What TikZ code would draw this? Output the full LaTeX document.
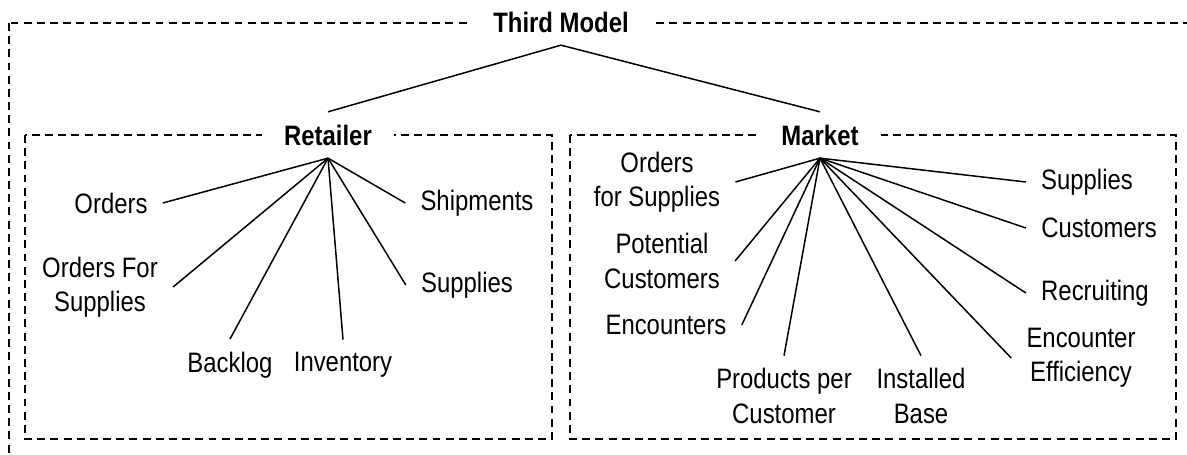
\documentclass[tikz,border=0pt]{standalone}
\usepackage{fontspec}
\setmainfont[FakeStretch=0.85]{Liberation Sans}
\usetikzlibrary{positioning}

\begin{document}
\begin{tikzpicture}[x=0.02cm,y=-0.02cm,
  every node/.style={font=\fontsize{16}{19.5}\selectfont},
  box/.style={line width=1.1pt,dash pattern=on 4.5pt off 3pt},
  title/.style={font=\fontsize{16}{19.5}\selectfont\bfseries,fill=white,inner xsep=0.45cm,inner ysep=0.25cm},
  item/.style={align=center,inner xsep=0.3cm,inner ysep=0.25cm},
  link/.style={line width=0.85pt}]
\useasboundingbox (0,0) rectangle (1187,455);
\clip (0,0) rectangle (1187,455);

% the three dashed frames
\draw[box] (9,23) rectangle (1230,500);
\draw[box] (25,135) rectangle (552,439);
\draw[box] (570,135) rectangle (1176,439);

\node[title] (third) at (561,22) {Third Model};
\node[title] (retailer) at (328,135) {Retailer};
\node[title] (market) at (820,135) {Market};
\draw[link] (retailer.north) -- (third.south) -- (market.north);

% Retailer
\node[item] (orders) at (111,203) {Orders};
\node[item] (ofsR) at (100,287) {Orders For\\Supplies};
\node[item] (backlog) at (230,365) {Backlog};
\node[item] (inventory) at (343,365) {Inventory};
\node[item] (shipments) at (477,203) {Shipments};
\node[item] (suppliesR) at (467,285) {Supplies};
\foreach \n/\a in {orders/east,ofsR/east,backlog/north,inventory/north,shipments/west,suppliesR/west}
  \draw[link] (retailer.south) -- (\n.\a);

% Market
\node[item] (ofsM) at (657,182) {Orders\\for Supplies};
\node[item] (potential) at (662,261) {Potential\\Customers};
\node[item] (encounters) at (666,325) {Encounters};
\node[item] (products) at (784,396) {Products per\\Customer};
\node[item] (installed) at (921,396) {Installed\\Base};
\node[item] (efficiency) at (1081,358) {Encounter\\Efficiency};
\node[item] (recruiting) at (1095,293) {Recruiting};
\node[item] (customers) at (1099,228) {Customers};
\node[item] (suppliesM) at (1087,182) {Supplies};
\foreach \n/\a in {ofsM/east,potential/east,encounters/east,products/north,installed/north,efficiency/west,recruiting/west,customers/west,suppliesM/west}
  \draw[link] (market.south) -- (\n.\a);
\end{tikzpicture}
\end{document}
